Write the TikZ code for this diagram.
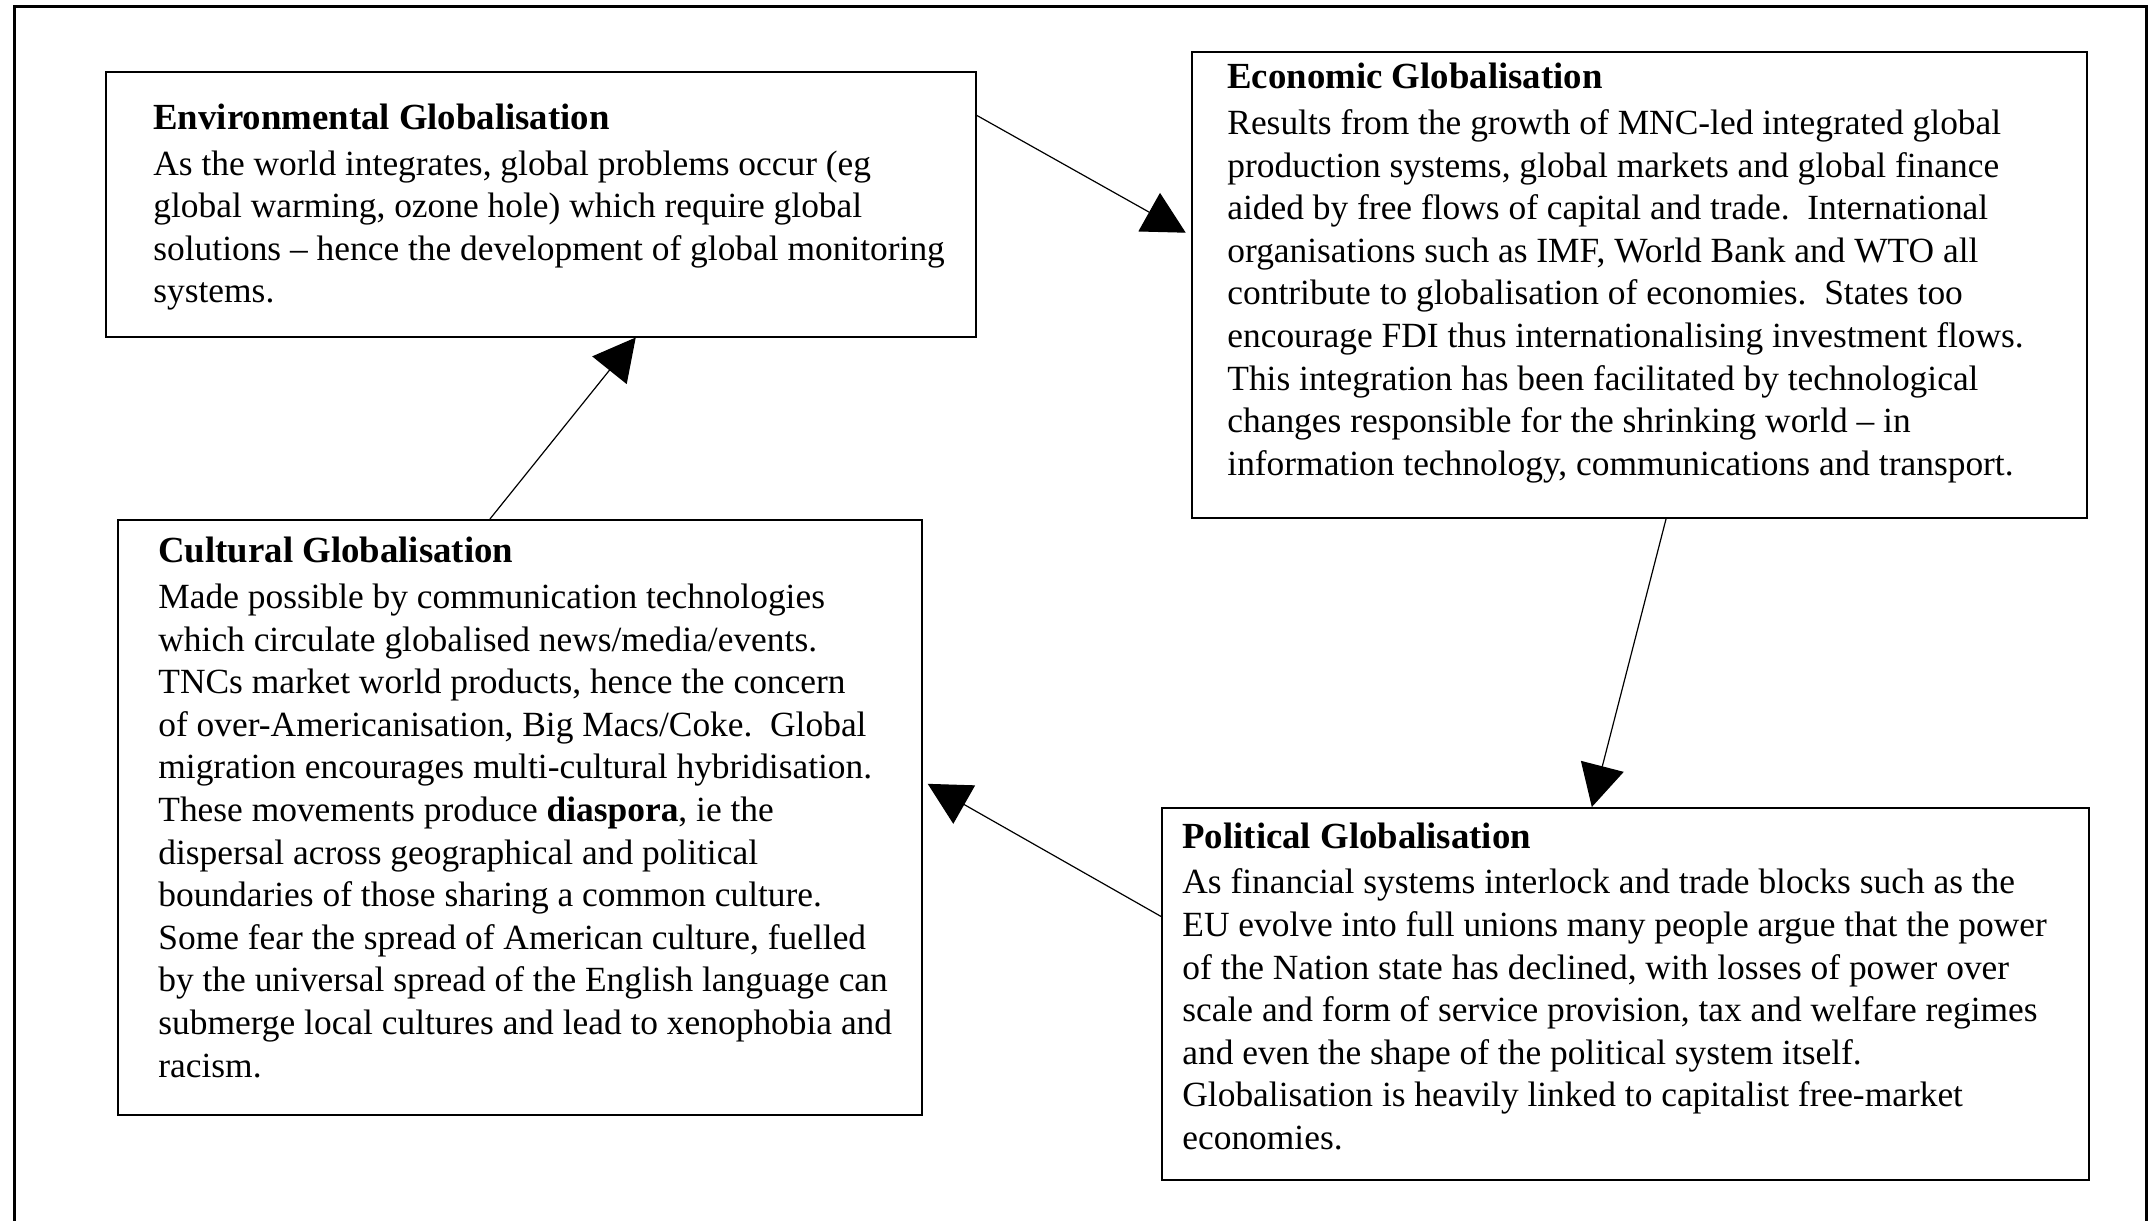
\documentclass[tikz,border=0pt]{standalone}
\usepackage{fontspec}
\setmainfont{Liberation Serif}
\usetikzlibrary{arrows.meta,calc}

\tikzset{
  gbox/.style={draw, line width=0.75pt, rectangle, inner sep=0pt, anchor=north west},
  gtext/.style={align=left, inner sep=0pt, anchor=north west, font=\fontsize{17.7}{21.3}\selectfont},
  flow/.style={line width=0.6pt, -{Triangle[length=21pt,width=22pt]}},
}
\newcommand{\ghead}[1]{{\fontsize{18.4}{21.3}\selectfont\bfseries #1}}

\begin{document}
\begin{tikzpicture}[x=0.5pt,y=-0.5pt]
\useasboundingbox (0,0) rectangle (2148,1221);
% frame, open at the bottom
\draw[line width=1.75pt] (14.5,1221) -- (14.5,6.5) -- (2147,6.5) -- (2147,1221);

% boxes
\node[gbox, minimum width=435pt, minimum height=132.5pt] (env) at (105,71) {};
\node[gbox, minimum width=447.5pt, minimum height=233pt] (econ) at (1191,51) {};
\node[gbox, minimum width=402pt, minimum height=297.5pt] (cult) at (117,519) {};
\node[gbox, minimum width=463.5pt, minimum height=186pt] (pol) at (1161,807) {};

% texts
\node[gtext] (envtext) at ([xshift=24pt,yshift=-16.3pt]env.north west) {%
  \ghead{Environmental Globalisation}\\[1.5pt]
  As the world integrates, global problems occur (eg\\
  global warming, ozone hole) which require global\\
  solutions -- hence the development of global monitoring\\
  systems.};
\node[gtext] (econtext) at ([xshift=18pt,yshift=-6pt]econ.north west) {%
  \ghead{Economic Globalisation}\\[1.5pt]
  Results from the growth of MNC-led integrated global\\
  production systems, global markets and global finance\\
  aided by free flows of capital and trade.\ \ International\\
  organisations such as IMF, World Bank and WTO all\\
  contribute to globalisation of economies.\ \ States too\\
  encourage FDI thus internationalising investment flows.\\
  This integration has been facilitated by technological\\
  changes responsible for the shrinking world -- in\\
  information technology, communications and transport.};
\node[gtext] (culttext) at ([xshift=20.5pt,yshift=-9pt]cult.north west) {%
  \ghead{Cultural Globalisation}\\[1.5pt]
  Made possible by communication technologies\\
  which circulate globalised news/media/events.\\
  TNCs market world products, hence the concern\\
  of over-Americanisation, Big Macs/Coke.\ \ Global\\
  migration encourages multi-cultural hybridisation.\\
  These movements produce \textbf{diaspora}, ie the\\
  dispersal across geographical and political\\
  boundaries of those sharing a common culture.\\
  Some fear the spread of American culture, fuelled\\
  by the universal spread of the English language can\\
  submerge local cultures and lead to xenophobia and\\
  racism.};
\node[gtext] (poltext) at ([xshift=10.5pt,yshift=-7.7pt]pol.north west) {%
  \ghead{Political Globalisation}\\[1.5pt]
  As financial systems interlock and trade blocks such as the\\
  EU evolve into full unions many people argue that the power\\
  of the Nation state has declined, with losses of power over\\
  scale and form of service provision, tax and welfare regimes\\
  and even the shape of the political system itself.\\
  Globalisation is heavily linked to capitalist free-market\\
  economies.};

% arrows
\draw[flow, shorten >=3pt] ($(env.north east)!0.166!(env.south east)$) -- ($(econ.north west)!0.395!(econ.south west)$);
\draw[flow] ($(econ.south west)!0.53!(econ.south east)$) -- ($(pol.north west)!0.464!(pol.north east)$);
\draw[flow, shorten >=3pt] ($(pol.north west)!0.293!(pol.south west)$) -- ($(cult.north east)!0.439!(cult.south east)$);
\draw[flow] ($(cult.north west)!0.463!(cult.north east)$) -- ($(env.south west)!0.609!(env.south east)$);
\end{tikzpicture}
\end{document}
